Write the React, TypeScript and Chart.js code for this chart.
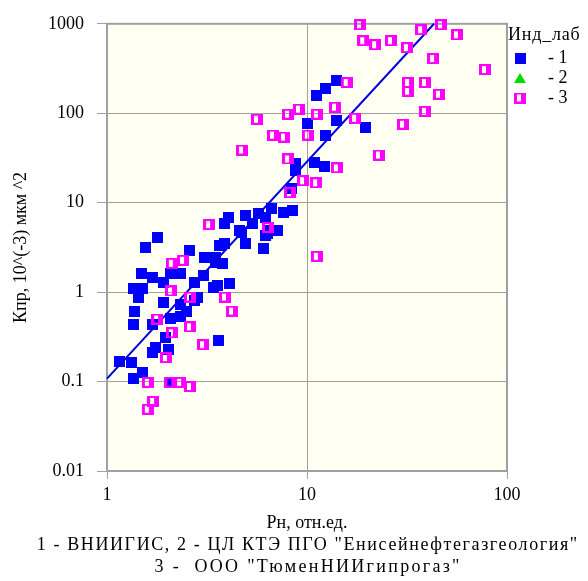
import React, { useEffect, useRef } from 'react';
import { Chart, registerables } from 'chart.js';

Chart.register(...registerables);

const FONT = '"Liberation Serif", "Times New Roman", serif';

// Лаборатория 1 — ВНИИГИС
const lab1Rn = [
  1.16, 1.33, 1.5, 1.35, 1.35, 1.38, 1.43, 1.35, 1.5, 1.48, 1.68, 1.91, 2.07, 2.32, 1.55, 1.78,
  2.6, 3.09, 1.68, 1.95, 1.74, 2.02, 1.68, 2.07, 1.91, 2.07, 2.32, 2.51, 2.32, 2.75, 2.75, 3.02,
  2.82, 3.47, 3.76, 3.55, 4.12, 3.39, 3.59, 3.67, 3.89, 4.9, 4.73, 6.03, 6.17, 7.16, 4.03, 3.89,
  4.9, 4.62, 5.69, 6.68, 6.17, 7.59, 8.51, 6.31, 3.47, 5.31, 6.53, 8.81, 8.81, 8.41, 10.96, 12.3,
  10.1, 11.2, 12.4, 14.0, 14.1, 19.7, 12.4,
];
const lab1Kpr = [
  0.167, 0.163, 0.126, 0.108, 0.44, 0.6, 0.86, 1.11, 1.11, 1.63, 1.47, 1.29, 1.63, 1.63, 3.16, 4.08,
  2.93, 2.45, 0.44, 0.31, 0.24, 0.227, 0.21, 0.098, 0.77, 0.51, 0.54, 0.6, 0.72, 0.81, 1.29, 1.55,
  0.88, 2.15, 2.1, 1.2, 1.26, 1.14, 0.29, 3.33, 3.5, 3.5, 4.64, 3.08, 4.3, 4.89, 6.81, 5.84,
  7.17, 4.89, 7.55, 8.58, 6.81, 7.74, 8.15, 4.53, 2.45, 5.84, 4.89, 27.1, 22.7, 14.3, 27.8, 25.1,
  77.4, 158, 190, 233, 83.6, 69.9, 57.0,
];

// Лаборатория 2 — ЦЛ КТЭ ПГО (образцов нет)
const lab2Rn: number[] = [];
const lab2Kpr: number[] = [];

// Лаборатория 3 — ТюменНИИгипрогаз
const lab3Rn = [
  18.4, 19.1, 21.9, 26.3, 31.6, 37.2, 46.8, 56.2, 42.7, 77.6, 32.0, 32.0, 38.9, 45.7, 38.9, 30.2,
  22.9, 15.8, 13.8, 11.2, 17.4, 9.12, 10.1, 14.1, 11.1, 9.55, 5.62, 8.04, 6.76, 7.67, 4.73, 8.04,
  8.22, 3.24, 6.38, 3.89, 4.22, 3.02, 2.11, 2.4, 2.09, 2.6, 1.78, 2.11, 2.6, 1.97, 1.6, 2.07,
  2.32, 2.6, 1.7, 1.6, 11.2,
];
const lab3Kpr = [
  975, 647, 584, 647, 541, 858, 975, 755, 408, 308, 221, 176, 221, 163, 105, 75.4,
  34.1, 221, 117, 97.5, 88.0, 111, 57.0, 24.5, 16.7, 17.6, 85.8, 97.5, 57.0, 54.1, 38.8, 30.8,
  12.9, 5.7, 5.27, 0.88, 0.615, 0.258, 2.1, 2.27, 1.03, 0.88, 0.5, 0.35, 0.41, 0.185, 0.098, 0.098,
  0.098, 0.088, 0.06, 0.049, 2.51,
];

// Линия тренда (концы отрезка)
const trendRn = [1, 43.2];
const trendKpr = [0.108, 1000];

const xTicks = [1, 10, 100];
const yTicks = [0.01, 0.1, 1, 10, 100, 1000];

const xTitle = 'Рн, отн.ед.';
const captionLines = [
  '1 - ВНИИГИС, 2 - ЦЛ КТЭ ПГО "Енисейнефтегазгеология"',
  '3 -  ООО "ТюменНИИгипрогаз"',
];
const captionSpacing = [1.6, 2.3];
const yTitle = 'Кпр, 10^(-3) мкм ^2';
const legendTitle = 'Инд_лаб';
const legendLabels = ['- 1', '- 2', '- 3'];

const BLUE = '#0000ff';
const GREEN = '#00dd00';
const MAGENTA = '#ff00ff';
const GRID = '#a0a0a0';

function toPoints(xs: number[], ys: number[]) {
  return xs.map((x, i) => ({ x, y: ys[i] }));
}

function squareMarker(color: string) {
  const c = document.createElement('canvas');
  c.width = 11;
  c.height = 11;
  const g = c.getContext('2d')!;
  g.fillStyle = color;
  g.fillRect(0, 0, 11, 11);
  return c;
}

function hollowMarker(color: string) {
  const c = document.createElement('canvas');
  c.width = 12;
  c.height = 11;
  const g = c.getContext('2d')!;
  g.fillStyle = color;
  g.fillRect(0, 0, 12, 11);
  g.clearRect(3, 2, 4, 7);
  return c;
}

function triangleMarker(color: string) {
  const c = document.createElement('canvas');
  c.width = 12;
  c.height = 10;
  const g = c.getContext('2d')!;
  g.fillStyle = color;
  g.beginPath();
  g.moveTo(6, 0);
  g.lineTo(12, 10);
  g.lineTo(0, 10);
  g.closePath();
  g.fill();
  return c;
}

export default function App() {
  const canvasRef = useRef<HTMLCanvasElement | null>(null);

  useEffect(() => {
    const canvas = canvasRef.current;
    if (!canvas) return;

    const m1 = squareMarker(BLUE);
    const m2 = triangleMarker(GREEN);
    const m3 = hollowMarker(MAGENTA);
    const markers = [m1, m2, m3];

    const plotFrame = {
      id: 'plotFrame',
      beforeDraw(chart: any) {
        const { ctx, chartArea } = chart;
        const { left, top, right, bottom } = chartArea;
        ctx.save();
        ctx.fillStyle = '#fffff2';
        ctx.fillRect(left, top, right - left, bottom - top);
        ctx.restore();
      },
      beforeDatasetsDraw(chart: any) {
        const { ctx, chartArea } = chart;
        const { left, top, right, bottom } = chartArea;
        ctx.save();
        ctx.strokeStyle = GRID;
        ctx.lineWidth = 2;
        ctx.strokeRect(left, top, right - left, bottom - top);
        ctx.restore();
      },
      afterDraw(chart: any) {
        const { ctx, chartArea } = chart;
        const x0 = chartArea.right + 1;
        ctx.save();
        ctx.fillStyle = '#000';
        ctx.font = `18px ${FONT}`;
        ctx.textBaseline = 'middle';

        // legend
        ctx.textAlign = 'left';
        (ctx as any).letterSpacing = '0.8px';
        ctx.fillText(legendTitle, x0, 35);
        (ctx as any).letterSpacing = '0px';
        legendLabels.forEach((label, i) => {
          const y = 58 + i * 20;
          const mk = markers[i];
          ctx.drawImage(mk, x0 + 12 - mk.width / 2, y - mk.height / 2);
          ctx.fillText(label, x0 + 40, y);
        });

        // caption under the axis title
        ctx.textAlign = 'center';
        const cx = (chartArea.left + chartArea.right) / 2;
        captionLines.forEach((line, i) => {
          (ctx as any).letterSpacing = `${captionSpacing[i]}px`;
          ctx.fillText(line, cx + captionSpacing[i] / 2, 545 + i * 22);
        });
        ctx.restore();
      },
    };

    const tickFont = { family: FONT, size: 18 };

    const chart = new Chart(canvas, {
      type: 'scatter',
      data: {
        datasets: [
          {
            label: '1',
            data: toPoints(lab1Rn, lab1Kpr),
            pointStyle: m1 as any,
            pointRadius: 6,
            order: 3,
            clip: false as any,
          },
          {
            label: '2',
            data: toPoints(lab2Rn, lab2Kpr),
            pointStyle: m2 as any,
            pointRadius: 6,
            order: 4,
            clip: false as any,
          },
          {
            type: 'line' as any,
            label: 'trend',
            data: toPoints(trendRn, trendKpr),
            borderColor: '#0000e0',
            borderWidth: 2,
            pointRadius: 0,
            showLine: true,
            fill: false,
            order: 2,
            clip: false as any,
          },
          {
            label: '3',
            data: toPoints(lab3Rn, lab3Kpr),
            pointStyle: m3 as any,
            pointRadius: 6,
            order: 1,
            clip: false as any,
          },
        ],
      },
      options: {
        responsive: false,
        animation: false,
        events: [],
        layout: { padding: { top: 21, right: 81, left: 0, bottom: 0 } },
        plugins: {
          legend: { display: false },
          tooltip: { enabled: false },
        },
        scales: {
          x: {
            type: 'logarithmic',
            min: 1,
            max: 100,
            afterBuildTicks: (s: any) => {
              s.ticks = xTicks.map((v) => ({ value: v }));
            },
            afterFit: (s: any) => {
              s.height = 110;
            },
            grid: { color: GRID, lineWidth: 1, tickLength: 8 },
            border: { color: GRID, width: 2 },
            ticks: {
              font: tickFont,
              color: '#000',
              padding: 5,
              maxRotation: 0,
              autoSkip: false,
              callback: (v: any) => String(v),
            },
            title: {
              display: true,
              text: xTitle,
              color: '#000',
              font: { family: FONT, size: 18, lineHeight: 1.22 },
              padding: { top: 0, bottom: 47 },
            },
          },
          y: {
            type: 'logarithmic',
            min: 0.01,
            max: 1000,
            afterBuildTicks: (s: any) => {
              s.ticks = yTicks.map((v) => ({ value: v }));
            },
            afterFit: (s: any) => {
              s.width = 107;
            },
            grid: { color: GRID, lineWidth: 1, tickLength: 10 },
            border: { color: GRID, width: 2 },
            ticks: {
              font: tickFont,
              color: '#000',
              padding: 13,
              autoSkip: false,
              callback: (v: any) => String(v),
            },
            title: {
              display: true,
              text: yTitle,
              color: '#000',
              font: { family: FONT, size: 18 },
              padding: { top: 10, bottom: 0 },
            },
          },
        },
      },
      plugins: [plotFrame],
    });

    return () => chart.destroy();
  }, []);

  return (
    <div style={{ position: 'fixed', left: 0, top: 0, width: 588, height: 581, background: '#fff' }}>
      <canvas ref={canvasRef} width={588} height={581} style={{ display: 'block' }} />
    </div>
  );
}
